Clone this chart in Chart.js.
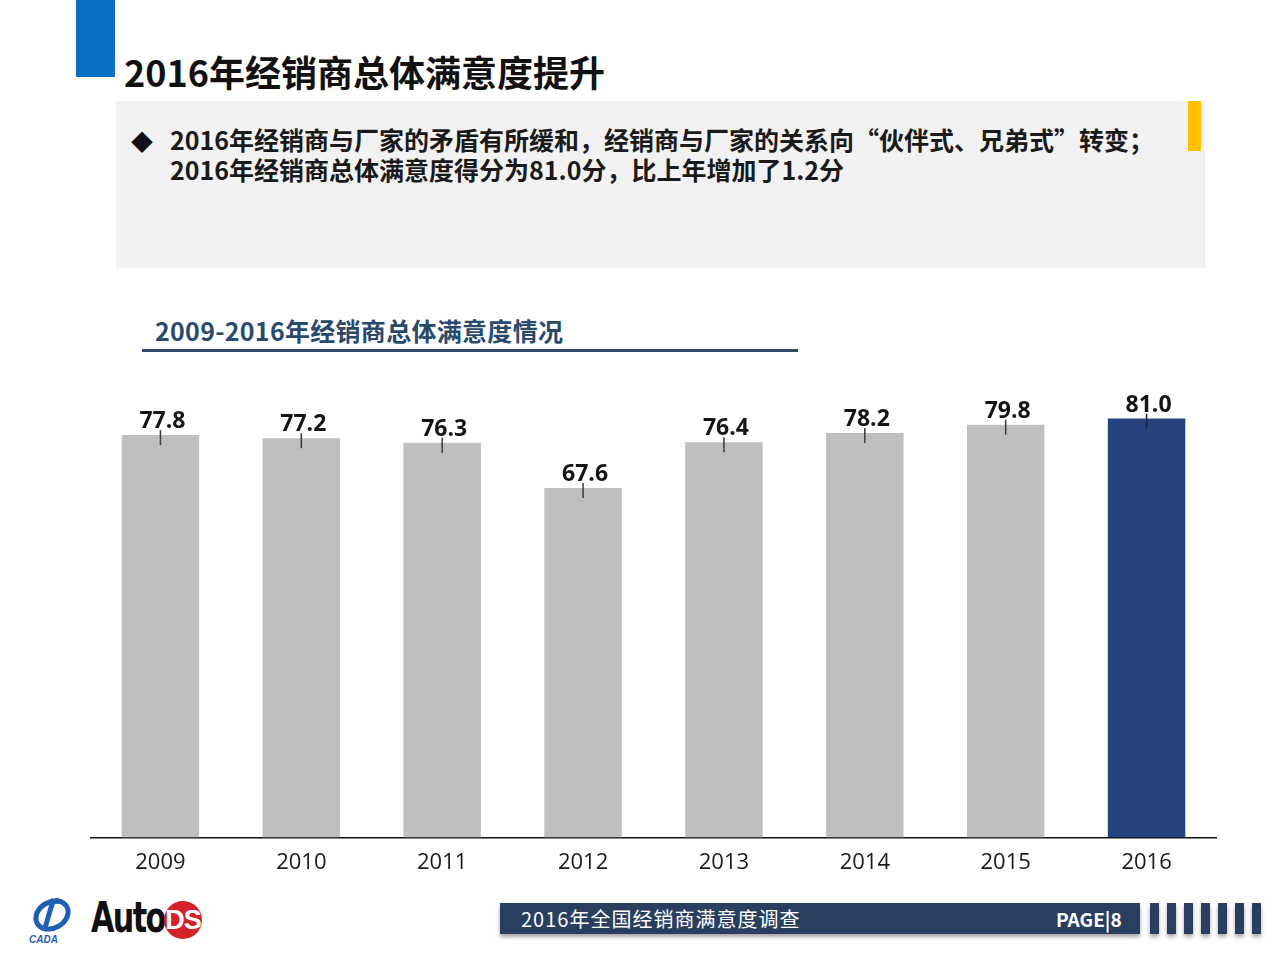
<!DOCTYPE html>
<html>
<head>
<meta charset="utf-8">
<script src="https://cdn.jsdelivr.net/npm/chart.js@4.4.1/dist/chart.umd.min.js"></script>
<style>
  html, body { margin:0; padding:0; background:#ffffff; }
  #page { position:relative; width:1280px; height:960px; overflow:hidden; background:#fff;
          font-family:"Noto Sans CJK SC","Noto Sans",sans-serif; }
  .abs { position:absolute; }
  #blueTab { left:76px; top:0; width:39px; height:77px; background:#0a6fc2; }
  #title { left:124px; top:45px; font-size:36px; font-weight:700; color:#111; white-space:nowrap; letter-spacing:0px; }
  #box { left:116px; top:101px; width:1089px; height:167px; background:#f2f2f2; }
  #yellow { left:1188px; top:101px; width:13px; height:50px; background:#ffc000; }
  #bullet { left:131px; top:124px; font-size:22px; color:#111; }
  .line { left:170px; font-size:25px; font-weight:700; color:#1a1a1a; white-space:nowrap; letter-spacing:0px; }
  #sub { left:155px; top:312px; font-size:25px; font-weight:700; color:#2a4a6c; white-space:nowrap; letter-spacing:0.3px; }
  #subLine { left:142px; top:349px; width:656px; height:3px; background:#2e4a68; }
  #chartWrap { left:90px; top:372px; width:1127px; height:516px; }
  #footBar { left:500px; top:903px; width:640px; height:31px; background:#2a3f5f; box-shadow:0 3px 4px rgba(0,0,0,0.35); }
  #footText { left:521px; top:904px; font-size:20px; color:#fff; white-space:nowrap; letter-spacing:1px; }
  #pageText { left:1056px; top:905px; font-size:19px; font-weight:700; color:#fff; white-space:nowrap; letter-spacing:0px; }
  .stripe { top:903px; width:9px; height:31px; background:#2a3f5f; box-shadow:0 3px 4px rgba(0,0,0,0.35); }
  #auto { left:91px; top:893px; font-family:"Liberation Sans Narrow","DejaVu Sans Condensed",sans-serif; font-size:42px; font-weight:700; color:#111; letter-spacing:-2px; transform:scaleX(0.8); transform-origin:left; }
  #ds { left:164px; top:901px; width:38px; height:38px; border-radius:50%; background:#d2232a; color:#fff; font-family:"Liberation Sans Narrow",sans-serif; font-weight:700; font-size:27px; line-height:38px; text-align:center; letter-spacing:-1px; }
  #cada { left:26px; top:895px; width:50px; height:50px; }
</style>
</head>
<body>
<div id="page">
  <div id="blueTab" class="abs"></div>
  <div id="title" class="abs">2016年经销商总体满意度提升</div>
  <div id="box" class="abs"></div>
  <div id="yellow" class="abs"></div>
  <div id="bullet" class="abs">◆</div>
  <div class="abs line" style="top:121px;">2016年经销商与厂家的矛盾有所缓和，经销商与厂家的关系向“伙伴式、兄弟式”转变；</div>
  <div class="abs line" style="top:151px;">2016年经销商总体满意度得分为81.0分，比上年增加了1.2分</div>
  <div id="sub" class="abs">2009-2016年经销商总体满意度情况</div>
  <div id="subLine" class="abs"></div>
  <div id="chartWrap" class="abs"><canvas id="c"></canvas></div>

  <svg id="cada" class="abs" viewBox="0 0 50 50">
    <ellipse cx="26" cy="20" rx="17" ry="13" fill="none" stroke="#1e5fb4" stroke-width="5" transform="rotate(-30 26 20)"/>
    <path d="M28 4 C 24 14, 22 24, 18 36" stroke="#1e5fb4" stroke-width="5" fill="none"/>
    <circle cx="31" cy="6" r="3" fill="#1e5fb4"/>
    <text x="3" y="48" font-size="10" font-style="italic" font-weight="700" fill="#1e5fb4" font-family="Liberation Sans">CADA</text>
  </svg>
  <div id="auto" class="abs">Auto</div>
  <div id="ds" class="abs">DS</div>

  <div id="footBar" class="abs"></div>
  <div id="footText" class="abs">2016年全国经销商满意度调查</div>
  <div id="pageText" class="abs">PAGE|8</div>
  <div class="abs stripe" style="left:1150px"></div>
  <div class="abs stripe" style="left:1167px"></div>
  <div class="abs stripe" style="left:1184px"></div>
  <div class="abs stripe" style="left:1201px"></div>
  <div class="abs stripe" style="left:1218px"></div>
  <div class="abs stripe" style="left:1235px"></div>
  <div class="abs stripe" style="left:1252px"></div>
</div>
<script>
const years = ["2009","2010","2011","2012","2013","2014","2015","2016"];
const scores = [77.8, 77.2, 76.3, 67.6, 76.4, 78.2, 79.8, 81.0];
const barColors = ["#bfbfbf","#bfbfbf","#bfbfbf","#bfbfbf","#bfbfbf","#bfbfbf","#bfbfbf","#24437f"];

const topLabels = {
  id: 'topLabels',
  afterDatasetsDraw(chart) {
    const ctx = chart.ctx;
    const meta = chart.getDatasetMeta(0);
    ctx.save();
    meta.data.forEach((bar, i) => {
      const v = chart.data.datasets[0].data[i];
      ctx.strokeStyle = i === 7 ? '#1a2540' : '#3a3a3a';
      ctx.lineWidth = 1.5;
      ctx.beginPath();
      ctx.moveTo(bar.x, bar.y - 5);
      ctx.lineTo(bar.x, bar.y + 10);
      ctx.stroke();
      ctx.fillStyle = '#151515';
      ctx.font = 'bold 23px "Open Sans", "Noto Sans", sans-serif';
      ctx.textAlign = 'center';
      ctx.textBaseline = 'alphabetic';
      ctx.fillText(v.toFixed(1), bar.x + 2, bar.y - 7);
    });
    ctx.restore();
  }
};

new Chart(document.getElementById('c'), {
  type: 'bar',
  data: {
    labels: years,
    datasets: [{
      data: scores,
      backgroundColor: barColors,
      borderWidth: 0,
      barPercentage: 0.55,
      categoryPercentage: 1.0
    }]
  },
  options: {
    responsive: true,
    maintainAspectRatio: false,
    animation: false,
    layout: { padding: 0 },
    plugins: { legend: { display: false }, tooltip: { enabled: false } },
    scales: {
      y: { display: false, min: 0, max: 90 },
      x: {
        grid: { display: false, drawTicks: false },
        border: { display: true, color: '#111', width: 1.5 },
        ticks: { color: '#1a1a1a', padding: 12, font: { size: 22, family: '"Open Sans", "Noto Sans", sans-serif' } }
      }
    }
  },
  plugins: [topLabels]
});
</script>
</body>
</html>
